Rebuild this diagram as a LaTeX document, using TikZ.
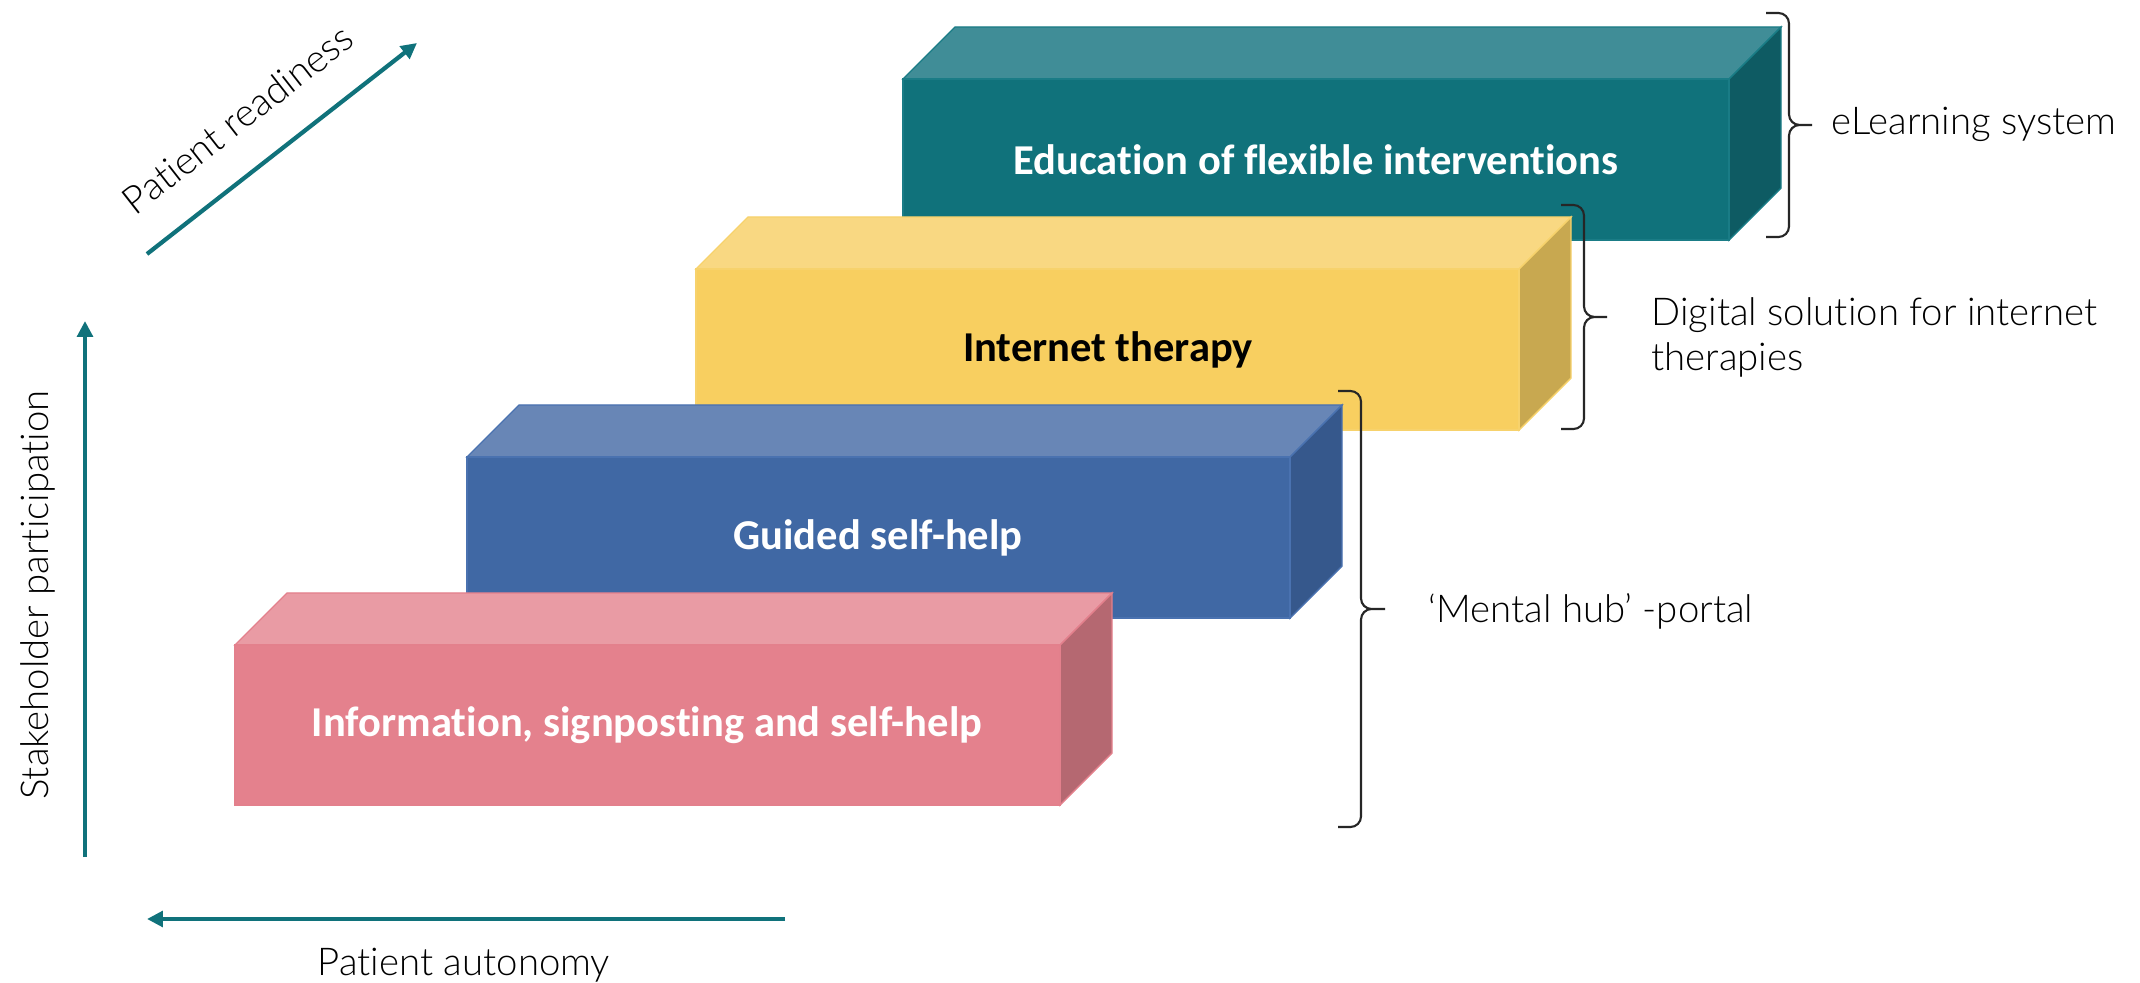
\documentclass[tikz,border=0pt]{standalone}
\usepackage{fontspec}
\setmainfont{Lato Light}[BoldFont=Lato Bold, Ligatures=NoCommon]
\newfontfamily\stepfont{Carlito}[Ligatures=NoCommon]
\usetikzlibrary{arrows.meta}
\definecolor{tlfront}{HTML}{10727B}
\definecolor{tltop}{HTML}{408D97}
\definecolor{tlside}{HTML}{0E5B63}
\definecolor{tledge}{HTML}{1A7C86}
\definecolor{ylfront}{HTML}{F8CF60}
\definecolor{yltop}{HTML}{F9D882}
\definecolor{ylside}{HTML}{C8A850}
\definecolor{yledge}{HTML}{F7D26C}
\definecolor{blfront}{HTML}{4068A4}
\definecolor{bltop}{HTML}{6886B6}
\definecolor{blside}{HTML}{36588C}
\definecolor{bledge}{HTML}{4A72B0}
\definecolor{pkfront}{HTML}{E4818D}
\definecolor{pktop}{HTML}{E99BA4}
\definecolor{pkside}{HTML}{B56871}
\definecolor{pkedge}{HTML}{E3808C}

\begin{document}
\begin{tikzpicture}[x=0.01cm, y=-0.01cm, >={Triangle[length=4.5pt, width=4.4pt]},
  axis/.style={tlfront, line width=1.2pt, ->},
  bracket/.style={line width=0.6pt, black!85, rounded corners=3pt},
  steplabel/.style={font=\stepfont\bfseries\fontsize{12.1}{14}\selectfont, text=white},
  sidelabel/.style={font=\fontsize{10.9}{12.8}\selectfont, inner sep=0pt, align=left}]

\path[use as bounding box, fill=white] (0,0) rectangle (2140,983);

% --- Step 4: teal slab ---
\filldraw[draw=tledge, fill=tltop] (903,79) -- ++(52,-52) -- ++(826,0) -- ++(-52,52) -- cycle;
\filldraw[draw=tledge, fill=tlside] (1729,79) -- ++(52,-52) -- ++(0,161) -- ++(-52,52) -- cycle;
\filldraw[draw=tledge, fill=tlfront] (903,79) rectangle (1729,240);
\node[steplabel] (edu) at (1316,160) {Education of flexible interventions};

% --- Step 3: yellow slab ---
\filldraw[draw=yledge, fill=yltop] (696,269) -- ++(52,-52) -- ++(823,0) -- ++(-52,52) -- cycle;
\filldraw[draw=yledge, fill=ylside] (1519,269) -- ++(52,-52) -- ++(0,161) -- ++(-52,52) -- cycle;
\filldraw[draw=yledge, fill=ylfront] (696,269) rectangle (1519,430);
\node[steplabel, text=black] (inet) at (1108,350) {Internet therapy};

% --- Step 2: blue slab ---
\filldraw[draw=bledge, fill=bltop] (467,457) -- ++(52,-52) -- ++(823,0) -- ++(-52,52) -- cycle;
\filldraw[draw=bledge, fill=blside] (1290,457) -- ++(52,-52) -- ++(0,161) -- ++(-52,52) -- cycle;
\filldraw[draw=bledge, fill=blfront] (467,457) rectangle (1290,618);
\node[steplabel] (guided) at (878,538) {Guided self-help};

% --- Step 1: pink slab ---
\filldraw[draw=pkedge, fill=pktop] (235,645) -- ++(52,-52) -- ++(825,0) -- ++(-52,52) -- cycle;
\filldraw[draw=pkedge, fill=pkside] (1060,645) -- ++(52,-52) -- ++(0,160) -- ++(-52,52) -- cycle;
\filldraw[draw=pkedge, fill=pkfront] (235,645) rectangle (1060,805);
\node[steplabel] (info) at (647,725) {Information, signposting and self-help};

% --- Braces (two halves meeting at the tip) ---
\coordinate (elTop) at (1766,13);
\coordinate (elBot) at (1766,237);
\draw[bracket] (elTop) -- ++(23,0) -- ++(0,112) -- ++(23,0)
               (elBot) -- ++(23,0) -- ++(0,-112) -- ++(23,0);
\node[sidelabel, anchor=base west] (elearn) at (1831,135) {eLearning system};

\coordinate (dgTop) at (1561,205);
\coordinate (dgBot) at (1561,429);
\draw[bracket] (dgTop) -- ++(23,0) -- ++(0,112) -- ++(23,0)
               (dgBot) -- ++(23,0) -- ++(0,-112) -- ++(23,0);
\node[sidelabel, anchor=west] (digital) at (1651,337) {Digital solution for internet\\therapies};

\coordinate (hbTop) at (1338,391);
\coordinate (hbBot) at (1338,827);
\draw[bracket] (hbTop) -- ++(23,0) -- ++(0,218) -- ++(24,0)
               (hbBot) -- ++(23,0) -- ++(0,-218) -- ++(24,0);
\node[sidelabel, anchor=base west] (hub) at (1428,623) {‘Mental hub’ -portal};

% --- Axes ---
\coordinate (readyFrom) at (147,254);
\coordinate (readyTo) at (417,43);
\draw[axis] (readyFrom) -- (readyTo);
\node[sidelabel, rotate=38, anchor=base] (readiness) at (246,130) {Patient readiness};

\coordinate (stakeFrom) at (85,857);
\coordinate (stakeTo) at (85,321);
\draw[axis] (stakeFrom) -- (stakeTo);
\node[sidelabel, rotate=90, anchor=base] (stakeholder) at (48,595) {Stakeholder participation};

\coordinate (autoFrom) at (785,919);
\coordinate (autoTo) at (147,919);
\draw[axis] (autoFrom) -- (autoTo);
\node[sidelabel, anchor=base] (autonomy) at (464,975) {Patient autonomy};

\end{tikzpicture}
\end{document}
